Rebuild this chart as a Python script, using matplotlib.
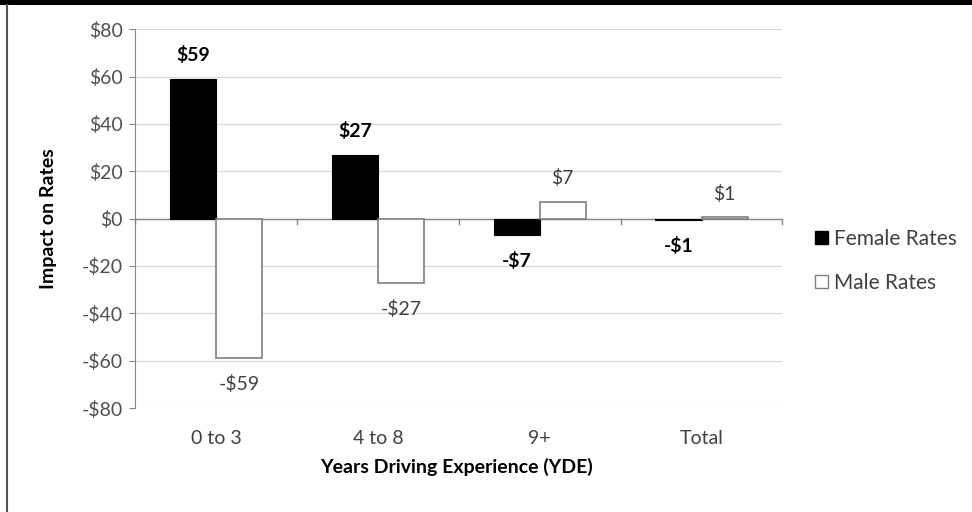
import matplotlib.pyplot as plt
import numpy as np
from matplotlib.patches import Rectangle
from matplotlib.lines import Line2D

plt.rcParams['font.family'] = ['Lato', 'DejaVu Sans']

# data
categories = ['0 to 3', '4 to 8', '9+', 'Total']
female = [59, 27, -7, -0.5]
male = [-59, -27, 7, 0.5]
female_labels = ['$59', '$27', '-$7', '-$1']
male_labels = ['-$59', '-$27', '$7', '$1']
yticks = [-80, -60, -40, -20, 0, 20, 40, 60, 80]

grey = '#404040'

fig = plt.figure(figsize=(9.72, 5.12), dpi=100)
ax = fig.add_axes([0.139, 0.203, 0.666, 0.74])

x = np.arange(len(categories))
w = 0.285
ax.bar(x - w / 2, female, w, color='black', edgecolor='black', linewidth=0.8, zorder=3)
ax.bar(x + w / 2, male, w, color='white', edgecolor='#7f7f7f', linewidth=1.2, zorder=3)

# data labels
for xi, v, t in zip(x, female, female_labels):
    off = 10 if v >= 0 else -11
    ax.text(xi - w / 2, v + off, t, ha='center', va='center', fontsize=14,
            fontweight='bold', color='black')
for xi, v, t in zip(x, male, male_labels):
    off = 10 if v >= 0 else -11
    ax.text(xi + w / 2, v + off, t, ha='center', va='center', fontsize=14, color=grey)

ax.set_xlim(-0.5, len(categories) - 0.5)
ax.set_ylim(-80, 80)
ax.set_yticks(yticks)
ax.set_yticklabels(['-$%d' % -v if v < 0 else '$%d' % v for v in yticks],
                   fontsize=14, color='#505050')
ax.yaxis.grid(True, color='#d9d9d9', linewidth=0.9, zorder=0)
ax.set_axisbelow(True)

# x axis sits at zero; category labels at the bottom
ax.set_xticks([])
for s in ['top', 'right', 'bottom']:
    ax.spines[s].set_visible(False)
ax.spines['left'].set_color('#868686')
ax.tick_params(axis='y', length=4, color='#868686', pad=5)
ax.axhline(0, color='#868686', linewidth=1, zorder=2)
for b in np.arange(-0.5, len(categories), 1.0):
    ax.plot([b, b], [0, -2.2], color='#868686', linewidth=1, zorder=2, clip_on=False)
for xi, c in zip(x, categories):
    ax.text(xi, -93, c, ha='center', va='center', fontsize=14, color=grey,
            transform=ax.transData, clip_on=False)

ax.set_ylabel('Impact on Rates', fontsize=14, fontweight='bold', color='black')
ax.yaxis.set_label_coords(-0.12, 0.5)
fig.text(0.47, 0.088, 'Years Driving Experience (YDE)', ha='center', va='center',
         fontsize=14, fontweight='bold', color='black')

handles = [Rectangle((0, 0), 1, 1, facecolor='black', edgecolor='black'),
           Rectangle((0, 0), 1, 1, facecolor='white', edgecolor='#7f7f7f')]
leg = fig.legend(handles, ['Female Rates', 'Male Rates'], loc='center left',
                 bbox_to_anchor=(0.83, 0.49), frameon=False, fontsize=15,
                 handlelength=0.6, handleheight=0.6, handletextpad=0.3,
                 labelspacing=1.15, borderaxespad=0)
for t in leg.get_texts():
    t.set_color(grey)

# outer frame pieces from the screenshot
fig.add_artist(Rectangle((0, 0.99), 1, 0.01, transform=fig.transFigure,
                         facecolor='black', edgecolor='none'))
fig.add_artist(Line2D([0.0075, 0.0075], [0.0, 0.99], transform=fig.transFigure,
                      color='#555555', linewidth=1.5))

fig.savefig('out.png', dpi=100)
